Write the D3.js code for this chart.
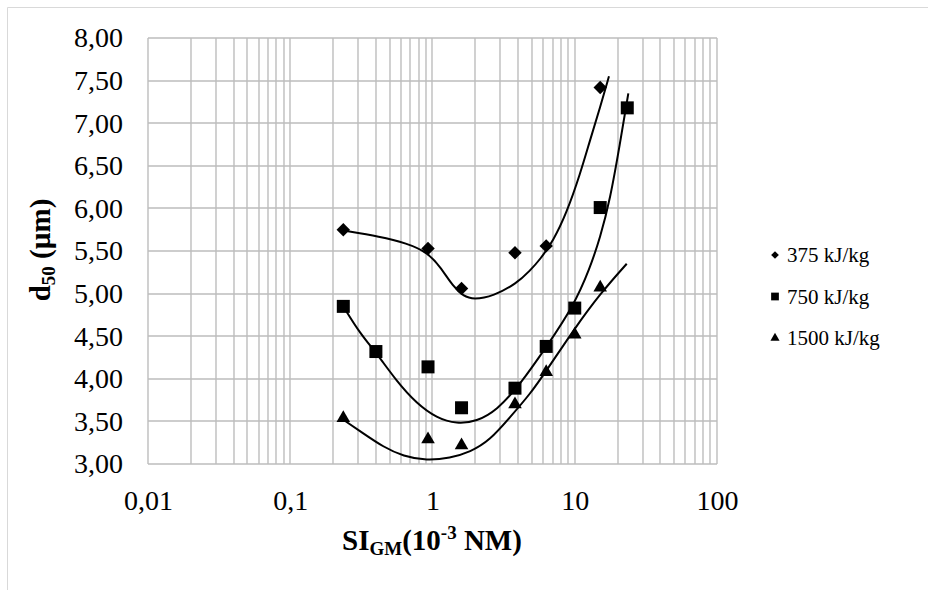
<!DOCTYPE html>
<html>
<head>
<meta charset="utf-8">
<script src="https://cdn.jsdelivr.net/npm/d3@7"></script>
<style>
body { margin: 0; background: #fff; }
text { font-family: "Liberation Serif", "Times New Roman", serif; fill: #000; }
</style>
</head>
<body>
<svg width="928" height="590"></svg>
<script>
// the svg
var svg = d3.select("svg"),
  width = +svg.attr("width"),
  height = +svg.attr("height");

// series names
var seriesNames = ["375 kJ/kg", "750 kJ/kg", "1500 kJ/kg"];

// measured points
var x375 = [0.236, 0.93, 1.6, 3.8, 6.3, 15.1];
var y375 = [5.75, 5.53, 5.06, 5.48, 5.56, 7.42];
var x750 = [0.236, 0.40, 0.93, 1.6, 3.8, 6.3, 10.0, 15.1, 23.4];
var y750 = [4.85, 4.32, 4.14, 3.66, 3.89, 4.38, 4.83, 6.01, 7.18];
var x1500 = [0.236, 0.93, 1.6, 3.8, 6.3, 10.0, 15.1];
var y1500 = [3.54, 3.29, 3.22, 3.70, 4.08, 4.52, 5.07];

// trend lines
var tx375 = [0.236, 0.43, 0.66, 0.91, 1.13, 1.40, 1.65, 1.94, 2.68, 3.91, 4.85, 5.70, 7.07, 8.78, 10.9, 12.8, 15.1, 17.4];
var ty375 = [5.74, 5.67, 5.59, 5.49, 5.32, 5.08, 4.97, 4.93, 4.97, 5.12, 5.27, 5.40, 5.62, 5.95, 6.40, 6.80, 7.19, 7.55];
var tx750 = [0.236, 0.31, 0.405, 0.56, 0.774, 1.07, 1.48, 2.05, 2.83, 4.12, 6.35, 9.78, 12.8, 15.1, 17.7, 20.8, 23.8];
var ty750 = [4.85, 4.53, 4.30, 3.97, 3.71, 3.54, 3.47, 3.50, 3.63, 3.93, 4.38, 4.85, 5.30, 5.66, 6.10, 6.76, 7.35];
var tx1500 = [0.236, 0.326, 0.451, 0.624, 0.91, 1.33, 1.84, 2.54, 3.51, 4.85, 6.35, 9.78, 15.1, 23.2];
var ty1500 = [3.52, 3.36, 3.20, 3.09, 3.04, 3.07, 3.14, 3.28, 3.55, 3.82, 4.10, 4.57, 5.00, 5.35];

// tick labels
var yTicks = [3, 3.5, 4, 4.5, 5, 5.5, 6, 6.5, 7, 7.5, 8];
var xTicks = [0.01, 0.1, 1, 10, 100];
var xTickLabels = ["0,01", "0,1", "1", "10", "100"];

var points = [d3.zip(x375, y375), d3.zip(x750, y750), d3.zip(x1500, y1500)];
var trends = [d3.zip(tx375, ty375), d3.zip(tx750, ty750), d3.zip(tx1500, ty1500)];

// scales
var x = d3.scaleLog().domain([0.01, 100]).range([148, 717]);
var y = d3.scaleLinear().domain([3, 8]).range([464, 38]);

// outer frame
svg.append("path")
  .attr("d", "M7.5," + height + "V7.5H" + width)
  .attr("fill", "none")
  .attr("stroke", "#d9d9d9");

// grid
var grid = svg.append("g")
  .attr("stroke", "#bdbdbd")
  .attr("stroke-width", 1.4);

grid.selectAll(".vx")
  .data(x.ticks())
  .enter().append("line")
    .attr("x1", function(d) { return Math.round(x(d)); })
    .attr("x2", function(d) { return Math.round(x(d)); })
    .attr("y1", y(8))
    .attr("y2", y(3));

grid.selectAll(".hy")
  .data(yTicks)
  .enter().append("line")
    .attr("x1", x(0.01))
    .attr("x2", x(100))
    .attr("y1", function(d) { return Math.round(y(d)); })
    .attr("y2", function(d) { return Math.round(y(d)); });

// axes labels
var comma = function(s) { return s.replace(".", ","); };

svg.append("g")
  .attr("transform", "translate(" + x(0.01) + ",0)")
  .call(d3.axisLeft(y)
    .tickValues(yTicks)
    .tickSize(0)
    .tickPadding(25)
    .tickFormat(function(d) { return comma(d3.format(".2f")(d)); }))
  .call(function(g) { g.select(".domain").remove(); })
  .selectAll("text")
    .attr("font-size", 28)
    .attr("font-family", "Liberation Serif")
    .attr("fill", "#000");

svg.append("g")
  .attr("transform", "translate(0," + y(3) + ")")
  .call(d3.axisBottom(x)
    .tickValues(xTicks)
    .tickSize(0)
    .tickPadding(26)
    .tickFormat(function(d, i) { return xTickLabels[i]; }))
  .call(function(g) { g.select(".domain").remove(); })
  .selectAll("text")
    .attr("font-size", 28)
    .attr("font-family", "Liberation Serif")
    .attr("fill", "#000");

// axis titles
var xt = svg.append("text")
  .attr("x", 342)
  .attr("y", 550)
  .attr("font-weight", "bold")
  .attr("font-size", 29);
xt.append("tspan").text("SI");
xt.append("tspan").attr("font-size", 19).attr("dy", 5).text("GM");
xt.append("tspan").attr("dy", -5).text("(10");
xt.append("tspan").attr("font-size", 19).attr("dy", -11).text("-3");
xt.append("tspan").attr("dy", 11).text(" NM)");

var yt = svg.append("text")
  .attr("transform", "translate(50,250) rotate(-90)")
  .attr("text-anchor", "middle")
  .attr("font-weight", "bold")
  .attr("font-size", 29);
yt.append("tspan").text("d");
yt.append("tspan").attr("font-size", 19).attr("dy", 5).text("50");
yt.append("tspan").attr("dy", -5).text(" (µm)");

// trend lines
var line = d3.line()
  .x(function(d) { return x(d[0]); })
  .y(function(d) { return y(d[1]); })
  .curve(d3.curveBasis);

svg.append("g")
  .selectAll("path")
  .data(trends)
  .enter().append("path")
    .attr("d", line)
    .attr("fill", "none")
    .attr("stroke", "#000")
    .attr("stroke-width", 2);

// markers
var symbols = [
  d3.symbol().type(d3.symbolSquare).size(90),
  d3.symbol().type(d3.symbolSquare).size(169),
  d3.symbol().type(d3.symbolTriangle).size(80)
];
var rot = [45, 0, 0];

points.forEach(function(pts, i) {
  svg.append("g")
    .selectAll("path")
    .data(pts)
    .enter().append("path")
      .attr("d", symbols[i])
      .attr("fill", "#000")
      .attr("transform", function(d) {
        return "translate(" + x(d[0]) + "," + y(d[1]) + ") rotate(" + rot[i] + ")";
      });
});

// legend
var legendSymbols = [
  d3.symbol().type(d3.symbolSquare).size(30),
  d3.symbol().type(d3.symbolSquare).size(60),
  d3.symbol().type(d3.symbolTriangle).size(36)
];

var legend = svg.append("g")
  .selectAll("g")
  .data(seriesNames)
  .enter().append("g")
    .attr("transform", function(d, i) { return "translate(775," + (255 + i * 41.5) + ")"; });

legend.append("path")
  .attr("d", function(d, i) { return legendSymbols[i](); })
  .attr("fill", "#000")
  .attr("transform", function(d, i) { return "rotate(" + rot[i] + ")"; });

legend.append("text")
  .attr("x", 12)
  .attr("y", 7)
  .attr("font-size", 21)
  .text(function(d) { return d; });
</script>
</body>
</html>
